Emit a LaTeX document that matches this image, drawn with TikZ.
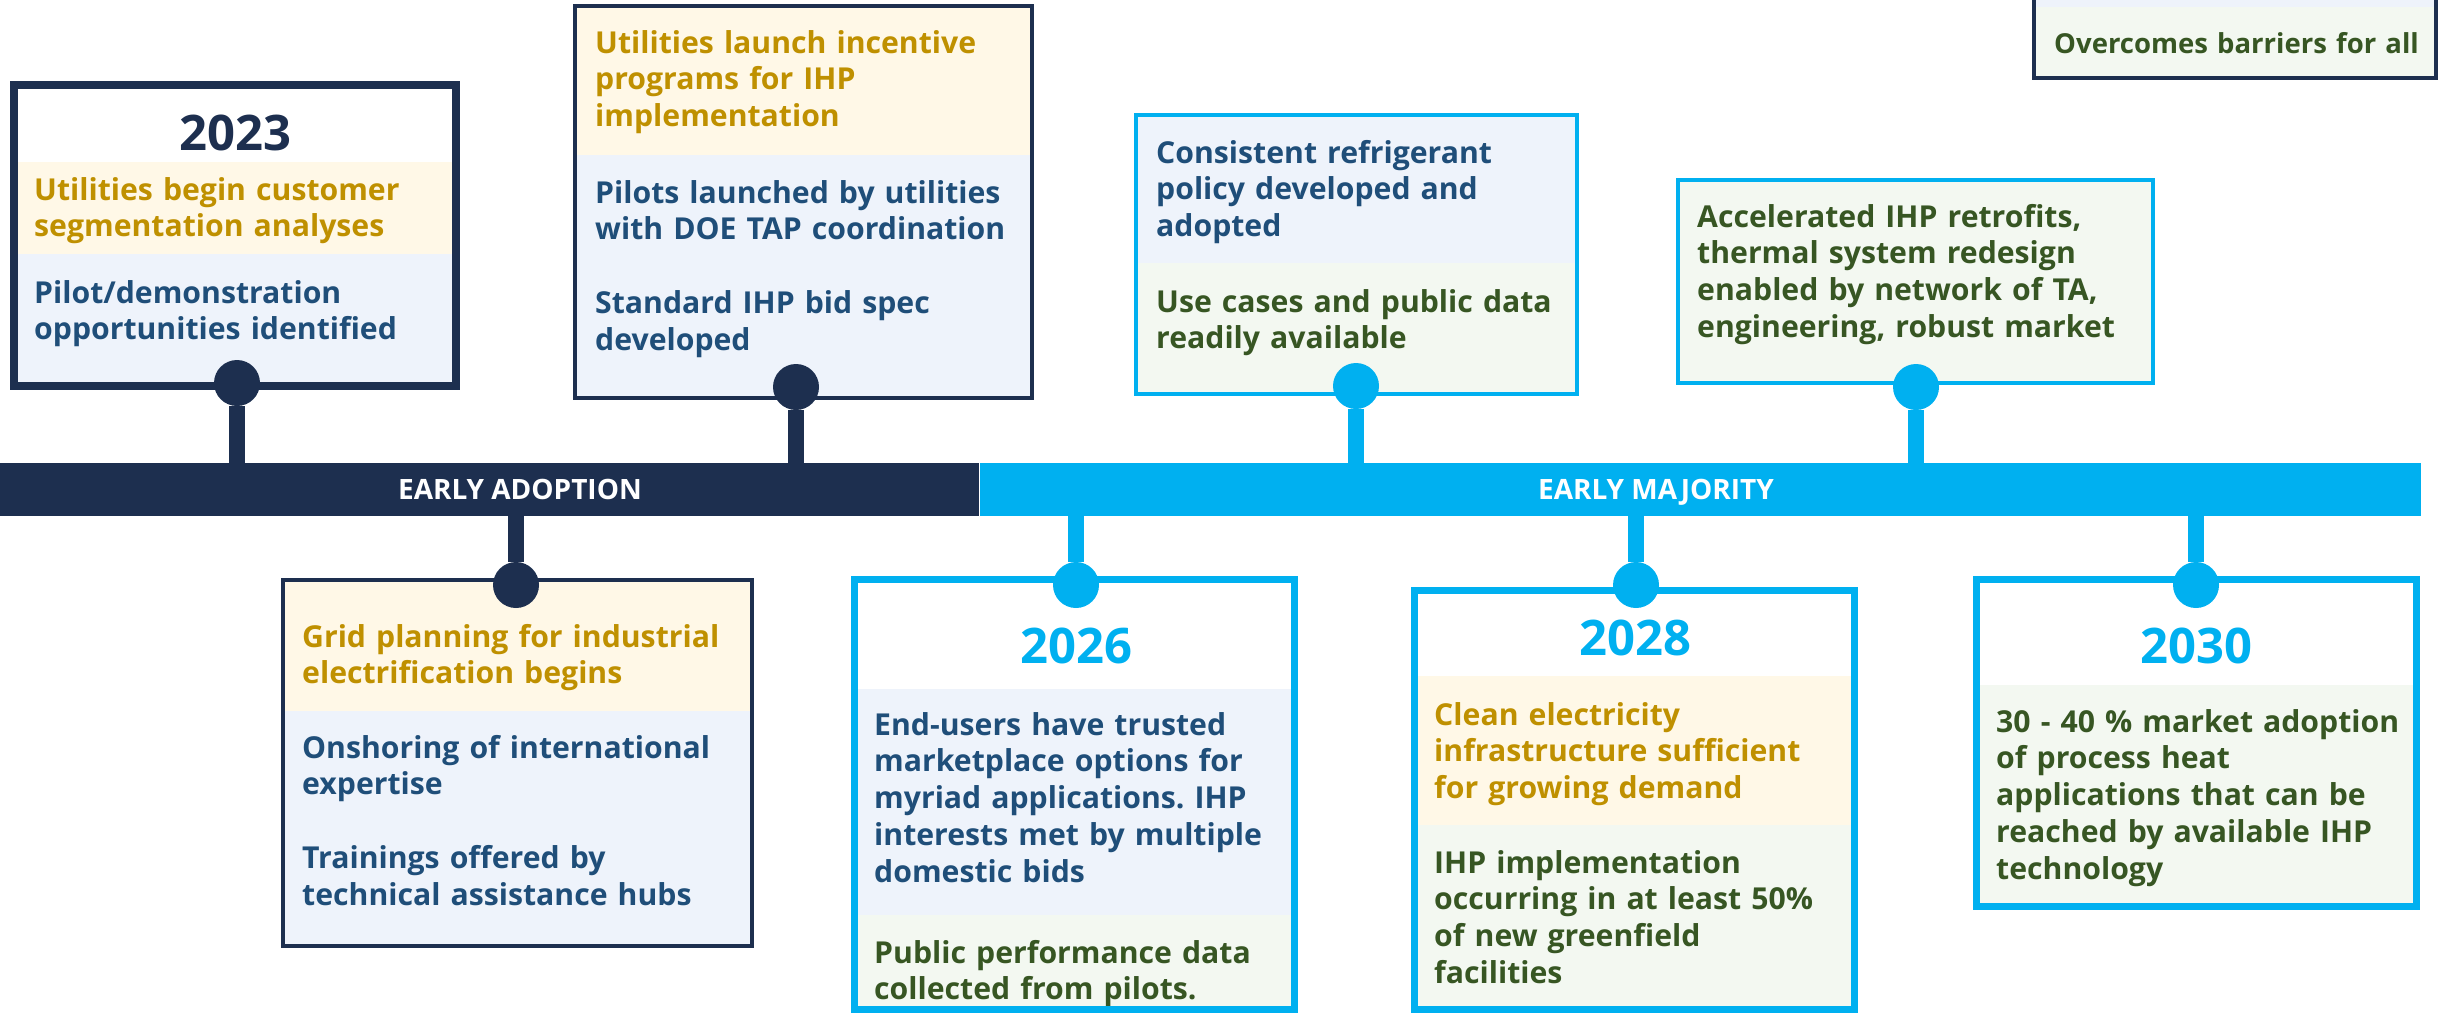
\documentclass[tikz,border=0pt]{standalone}
\usepackage{fontspec}
\setmainfont{Open Sans}
\usetikzlibrary{positioning}
\definecolor{navy}{HTML}{1D2F4F}
\definecolor{sky}{HTML}{00B0F0}
\definecolor{goldtxt}{HTML}{BF9000}
\definecolor{bluetxt}{HTML}{1F4E79}
\definecolor{greentxt}{HTML}{375623}
\definecolor{goldfill}{HTML}{FFF8E7}
\definecolor{bluefill}{HTML}{EEF3FB}
\definecolor{greenfill}{HTML}{F3F8F1}
\frenchspacing

\begin{document}
\begin{tikzpicture}[
  x=1pt, y=-1pt,
  every node/.style={font=\bfseries, inner sep=0pt},
  txt/.style  ={anchor=base west, align=left, text width=470pt,
                font=\fontsize{30.2}{36.75}\selectfont\bfseries},
  gold/.style ={txt, text=goldtxt},
  blu/.style  ={txt, text=bluetxt},
  grn/.style  ={txt, text=greentxt},
  year/.style ={anchor=base, font=\fontsize{49}{55}\selectfont\bfseries},
  card/.style ={draw=#1, rectangle, line width=4pt},
  ycard/.style={card=#1, line width=7.5pt},
  knob/.style ={circle, fill=#1, minimum size=46pt},
  stem/.style ={draw=#1, line width=16pt},
  phase/.style={rectangle, fill=#1, anchor=west, minimum height=53pt},
  phaselbl/.style={anchor=base, text=white, font=\fontsize{28}{30}\selectfont\bfseries},
]
\useasboundingbox (0,0) rectangle (2440,1013);

%% ── Phase bar ─────────────────────────────────────────────
\node[phase=navy, minimum width=979pt] (adopt) at (0,489.5) {};
\node[phase=sky, minimum width=1441pt, right=0pt of adopt] (major) {};
\node[phaselbl] (adoptlbl) at (520,499.5) {EARLY ADOPTION};
\node[phaselbl] (majorlbl) at (1656,499.5) {EARLY MAJORITY};

%% ════════════════════════════════════════════════════════════
%% ABOVE THE BAR
%% ════════════════════════════════════════════════════════════

%% 2023
\fill[goldfill] (14,162) rectangle (456,254);
\fill[bluefill] (14,254) rectangle (456,386);
\node[year, text=navy] (y2023lbl) at (235,150) {2023};
\node[gold] (seg)   at (34,200) {Utilities begin customer\\segmentation analyses};
\node[blu]  (pilot) at (34,303) {Pilot/demonstration\\opportunities identified};
\node[ycard=navy, minimum width=442pt, minimum height=301pt] (y2023) at (235,235.5) {};
\node[knob=navy] (y2023dot) at (237,383) {};

%% incentives
\fill[goldfill] (575,6) rectangle (1032,155);
\fill[bluefill] (575,155) rectangle (1032,398);
\node[gold] (incent) at (595,53) {Utilities launch incentive\\programs for IHP\\implementation};
\node[blu]  (launch) at (595,203)
  {Pilots launched by utilities\\with DOE TAP coordination\\[36.75pt]Standard IHP bid spec\\developed};
\node[card=navy, minimum width=457pt, minimum height=392pt] (incbox) at (803.5,202) {};
\node[knob=navy] (incdot) at (796,387) {};

%% refrigerant policy
\fill[bluefill]  (1136,115) rectangle (1577,263);
\fill[greenfill] (1136,263) rectangle (1577,394);
\node[blu] (refrig) at (1156,163) {Consistent refrigerant\\policy developed and\\adopted};
\node[grn] (usecase) at (1156,312) {Use cases and public data\\readily available};
\node[card=sky, minimum width=441pt, minimum height=279pt] (refbox) at (1356.5,254.5) {};
\node[knob=sky] (refdot) at (1356,386) {};

%% retrofits
\fill[greenfill] (1678,180) rectangle (2153,383);
\node[grn] (retro) at (1697,227)
  {Accelerated IHP retrofits,\\thermal system redesign\\enabled by network of TA,\\engineering, robust market};
\node[card=sky, minimum width=475pt, minimum height=203pt] (retbox) at (1915.5,281.5) {};
\node[knob=sky] (retdot) at (1916,387) {};

%% barriers (cut by the top edge)
\fill[bluefill]  (2034,-18) rectangle (2436,7);
\fill[greenfill] (2034,7) rectangle (2436,78);
\node[grn, font=\fontsize{27.5}{33}\selectfont\bfseries] (barrier) at (2054,53) {Overcomes barriers for all};
\node[card=navy, minimum width=402pt, minimum height=96pt] (barbox) at (2235,30) {};

%% ════════════════════════════════════════════════════════════
%% BELOW THE BAR
%% ════════════════════════════════════════════════════════════

%% grid planning
\fill[goldfill] (283,580) rectangle (752,711);
\fill[bluefill] (283,711) rectangle (752,946);
\node[gold] (grid) at (302,647) {Grid planning for industrial\\electrification begins};
\node[blu]  (onshore) at (302,758)
  {Onshoring of international\\expertise\\[36.75pt]Trainings offered by\\technical assistance hubs};
\node[card=navy, minimum width=469pt, minimum height=366pt] (gridbox) at (517.5,763) {};
\node[knob=navy] (griddot) at (516,585) {};

%% 2026
\fill[bluefill]  (854.5,689) rectangle (1294.5,915);
\fill[greenfill] (854.5,915) rectangle (1294.5,1009.5);
\node[year, text=sky] (y2026lbl) at (1076,663) {2026};
\node[blu] (enduser) at (874,735)
  {End-users have trusted\\marketplace options for\\myriad applications. IHP\\interests met by multiple\\domestic bids};
\node[grn] (perfdata) at (874,963) {Public performance data\\collected from pilots.};
\node[ycard=sky, minimum width=440pt, minimum height=430pt] (y2026) at (1074.5,794.5) {};
\node[knob=sky] (y2026dot) at (1076,585) {};

%% 2028
\fill[goldfill]  (1414.5,676) rectangle (1854.5,825);
\fill[greenfill] (1414.5,825) rectangle (1854.5,1009.5);
\node[year, text=sky] (y2028lbl) at (1635,655) {2028};
\node[gold] (clean) at (1434,725)
  {Clean electricity\\infrastructure sufficient\\for growing demand};
\node[grn] (green50) at (1434,873)
  {IHP implementation\\occurring in at least 50\%\\of new greenfield\\facilities};
\node[ycard=sky, minimum width=440pt, minimum height=419pt] (y2028) at (1634.5,800) {};
\node[knob=sky] (y2028dot) at (1636,585) {};

%% 2030
\fill[greenfill] (1976.5,685) rectangle (2416.5,906.5);
\node[year, text=sky] (y2030lbl) at (2196,663) {2030};
\node[grn] (market) at (1996,732)
  {30 - 40 \% market adoption\\of process heat\\applications that can be\\reached by available IHP\\technology};
\node[ycard=sky, minimum width=440pt, minimum height=327pt] (y2030) at (2196.5,743) {};
\node[knob=sky] (y2030dot) at (2196,585) {};

%% ── stems to the bar ──────────────────────────────────────
\draw[stem=navy] (y2023dot) -- (y2023dot |- adopt.north);
\draw[stem=navy] (incdot)   -- (incdot |- adopt.north);
\draw[stem=sky]  (refdot)   -- (refdot |- major.north);
\draw[stem=sky]  (retdot)   -- (retdot |- major.north);
\draw[stem=navy] (griddot)  -- (griddot |- adopt.south);
\draw[stem=sky]  (y2026dot) -- (y2026dot |- major.south);
\draw[stem=sky]  (y2028dot) -- (y2028dot |- major.south);
\draw[stem=sky]  (y2030dot) -- (y2030dot |- major.south);

\end{tikzpicture}
\end{document}
